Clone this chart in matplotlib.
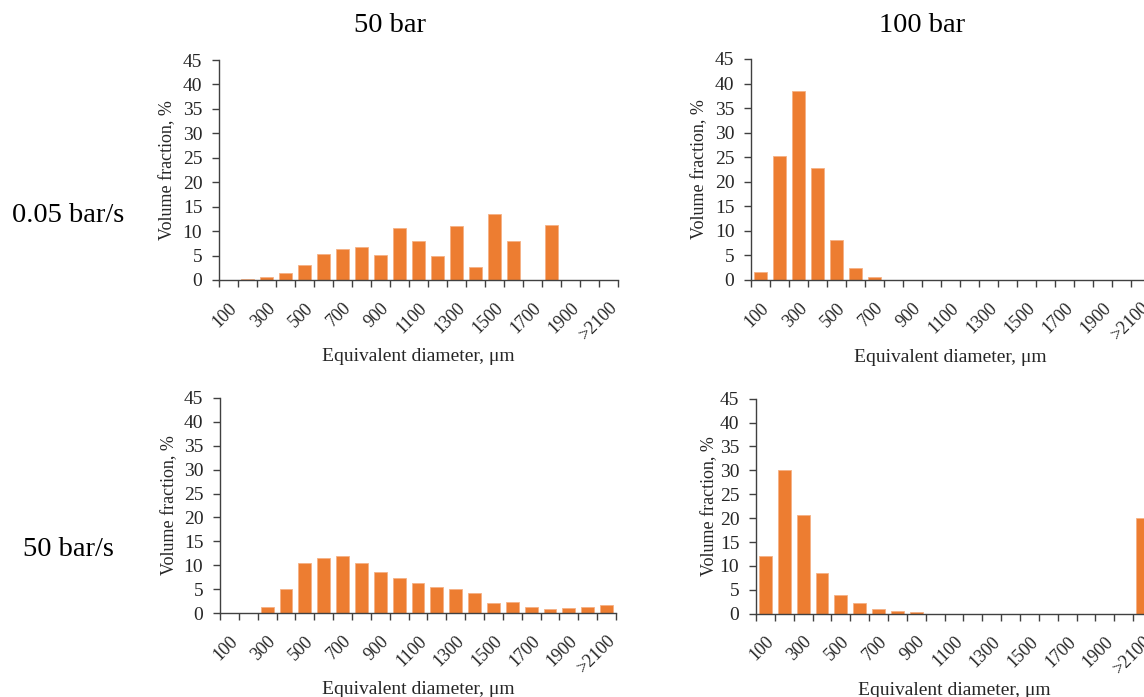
import matplotlib.pyplot as plt
import numpy as np

plt.rcParams['font.family'] = ['Liberation Serif', 'DejaVu Serif']

# size classes (um); labels only on every other class
classes = ['100', '200', '300', '400', '500', '600', '700', '800', '900', '1000',
           '1100', '1200', '1300', '1400', '1500', '1600', '1700', '1800', '1900',
           '2000', '>2100']

# volume fraction, %
slow_50 = [0, 0.2, 0.6, 1.5, 3.0, 5.4, 6.4, 6.8, 5.1, 10.6, 7.9, 4.9, 11.1, 2.6,
           13.5, 8.0, 0, 11.2, 0, 0, 0]
slow_100 = [1.7, 25.3, 38.5, 22.7, 8.2, 2.5, 0.7, 0, 0, 0, 0, 0, 0, 0, 0, 0, 0,
            0, 0, 0, 0]
fast_50 = [0, 0, 1.2, 5.0, 10.4, 11.6, 11.9, 10.4, 8.5, 7.4, 6.3, 5.4, 5.0, 4.1,
           2.1, 2.4, 1.3, 0.9, 1.1, 1.3, 1.6]
fast_100 = [12.1, 30.0, 20.7, 8.6, 3.9, 2.3, 1.0, 0.5, 0.3, 0, 0, 0, 0, 0, 0, 0,
            0, 0, 0, 0, 20.0]

bar_color = '#ED7D31'
axis_color = '#404040'
text_color = '#262626'

fig = plt.figure(figsize=(11.44, 6.97), dpi=100)

# panel boxes in figure fractions (right column runs off the page like the original)
boxes = [
    [0.1914, 0.5983, 0.3488, 0.3156],
    [0.6565, 0.5983, 0.3488, 0.3171],
    [0.1923, 0.1205, 0.3462, 0.3085],
    [0.6608, 0.1195, 0.3462, 0.3085],
]
series = [slow_50, slow_100, fast_50, fast_100]
ylab_x = [-0.128, -0.128, -0.126, -0.118]
xlab_y = [-0.35, -0.35, -0.358, -0.358]

x = np.arange(len(classes))
for box, vals, lx, ly in zip(boxes, series, ylab_x, xlab_y):
    ax = fig.add_axes(box)
    ax.bar(x, vals, width=0.68, color=bar_color, edgecolor='#F6B184', linewidth=0.6)
    ax.set_xlim(-0.5, len(classes) - 0.5)
    ax.set_ylim(0, 45)
    ax.set_yticks(np.arange(0, 46, 5))
    # tick marks at class boundaries, labels at class centres
    ax.set_xticks(np.arange(-0.5, len(classes), 1.0))
    ax.set_xticklabels([])
    ax.set_xticks(x[::2], minor=True)
    ax.set_xticklabels(classes[::2], minor=True, rotation=45, ha='right',
                       rotation_mode='anchor', fontsize=13, color=text_color)
    ax.tick_params(axis='x', which='major', length=5, color=axis_color, width=1)
    ax.tick_params(axis='x', which='minor', length=0, pad=14)
    ax.tick_params(axis='y', length=5, color=axis_color, width=1, labelsize=14,
                   labelcolor=text_color, pad=7)
    for s in ['top', 'right']:
        ax.spines[s].set_visible(False)
    for s in ['left', 'bottom']:
        ax.spines[s].set_color(axis_color)
        ax.spines[s].set_linewidth(1)
    ax.set_ylabel('Volume fraction, %', fontsize=13, color=text_color, va='center')
    ax.yaxis.set_label_coords(lx, 0.5)
    ax.set_xlabel('Equivalent diameter, μm', fontsize=14, color=text_color, va='center')
    ax.xaxis.set_label_coords(0.5, ly)

fig.text(390 / 1144, 1 - 26 / 697, '50 bar', fontsize=20.5, ha='center', va='center')
fig.text(922 / 1144, 1 - 26 / 697, '100 bar', fontsize=20.5, ha='center', va='center')
fig.text(68 / 1144, 1 - 215 / 697, '0.05 bar/s', fontsize=20.5, ha='center', va='center')
fig.text(68 / 1144, 1 - 550 / 697, '50 bar/s', fontsize=20.5, ha='center', va='center')

fig.savefig('out.png', dpi=100)
